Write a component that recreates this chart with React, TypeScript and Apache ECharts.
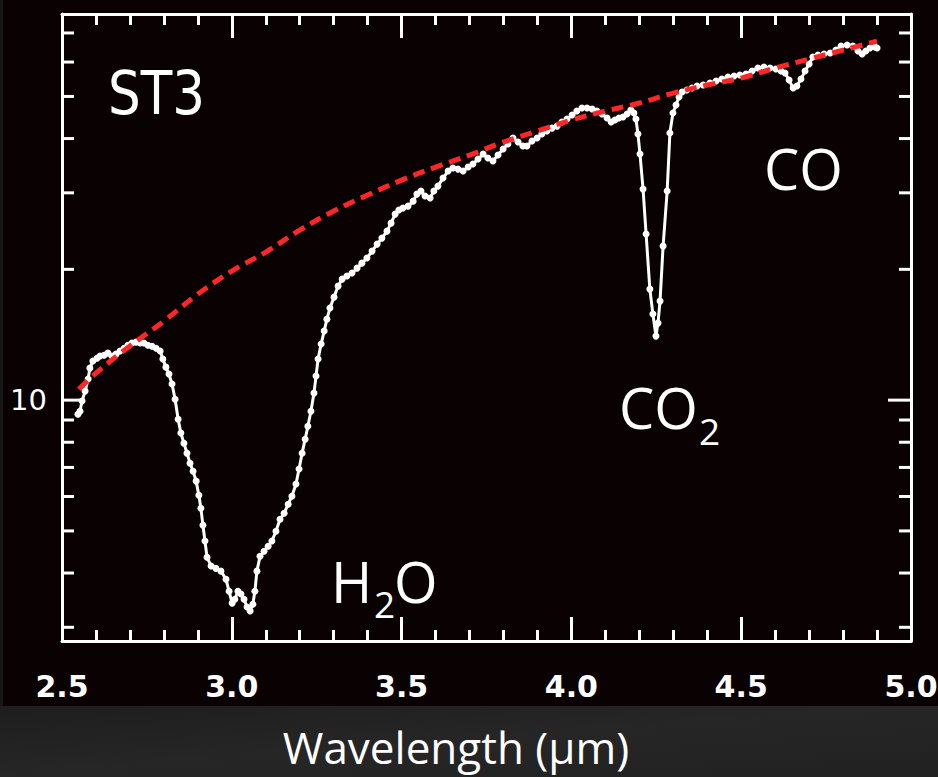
import React, { useEffect, useRef } from "react";
import * as echarts from "echarts";

// Observed spectrum (wavelength in micron, flux)
const wavelength = [
  2.547, 2.553, 2.559, 2.568, 2.577, 2.582, 2.591, 2.603, 2.612, 2.624,
  2.635, 2.647, 2.659, 2.671, 2.683, 2.694, 2.706, 2.718, 2.730, 2.741,
  2.753, 2.765, 2.777, 2.789, 2.797, 2.806, 2.815, 2.824, 2.833, 2.842,
  2.850, 2.859, 2.868, 2.877, 2.886, 2.895, 2.903, 2.909, 2.915, 2.921,
  2.927, 2.939, 2.953, 2.968, 2.983, 2.992, 3.001, 3.009, 3.018, 3.027,
  3.036, 3.045, 3.054, 3.062, 3.068, 3.074, 3.083, 3.095, 3.107, 3.118,
  3.130, 3.142, 3.154, 3.166, 3.177, 3.189, 3.198, 3.207, 3.216, 3.224,
  3.233, 3.242, 3.248, 3.254, 3.263, 3.272, 3.280, 3.289, 3.301, 3.313,
  3.325, 3.339, 3.354, 3.369, 3.383, 3.398, 3.413, 3.428, 3.442, 3.457,
  3.469, 3.481, 3.492, 3.504, 3.519, 3.534, 3.545, 3.557, 3.569, 3.584,
  3.595, 3.607, 3.622, 3.637, 3.651, 3.666, 3.681, 3.696, 3.710, 3.725,
  3.740, 3.754, 3.769, 3.784, 3.799, 3.813, 3.828, 3.843, 3.857, 3.869,
  3.884, 3.899, 3.913, 3.928, 3.943, 3.958, 3.972, 3.987, 4.002, 4.016,
  4.031, 4.046, 4.061, 4.075, 4.090, 4.105, 4.117, 4.128, 4.140, 4.152,
  4.164, 4.175, 4.184, 4.190, 4.196, 4.202, 4.211, 4.220, 4.231, 4.240,
  4.249, 4.255, 4.261, 4.270, 4.282, 4.290, 4.299, 4.308, 4.317, 4.326,
  4.340, 4.355, 4.370, 4.388, 4.408, 4.426, 4.443, 4.461, 4.479, 4.496,
  4.514, 4.532, 4.549, 4.567, 4.585, 4.602, 4.617, 4.629, 4.641, 4.653,
  4.664, 4.676, 4.688, 4.700, 4.711, 4.726, 4.744, 4.762, 4.779, 4.794,
  4.812, 4.829, 4.844, 4.856, 4.867, 4.879, 4.894, 4.900,
];

const flux = [
  9.28, 9.43, 9.95, 10.49, 11.18, 11.85, 12.30, 12.49, 12.63, 12.69,
  12.83, 12.63, 12.76, 12.97, 13.17, 13.38, 13.53, 13.60, 13.53, 13.53,
  13.38, 13.31, 13.17, 12.97, 12.43, 11.91, 11.48, 10.89, 10.05, 9.04,
  8.40, 7.96, 7.55, 7.16, 6.86, 6.51, 6.04, 5.64, 5.15, 4.74,
  4.35, 4.15, 4.10, 4.04, 3.87, 3.63, 3.41, 3.48, 3.63, 3.58,
  3.48, 3.34, 3.27, 3.39, 3.63, 4.04, 4.37, 4.49, 4.61, 4.74,
  4.99, 5.32, 5.49, 5.76, 6.01, 6.41, 6.94, 7.55, 8.13, 8.71,
  9.43, 10.38, 11.36, 12.43, 13.46, 14.42, 15.36, 16.29, 17.26, 18.30,
  18.99, 19.30, 19.61, 20.13, 20.67, 21.23, 22.03, 22.86, 23.60, 24.49,
  25.55, 26.80, 27.38, 27.67, 27.96, 28.71, 29.80, 30.28, 29.49, 29.18,
  30.28, 31.09, 32.44, 33.67, 34.21, 34.02, 33.67, 34.39, 34.94, 35.88,
  36.84, 36.07, 35.50, 36.65, 37.83, 38.85, 40.10, 39.26, 38.44, 38.44,
  39.47, 40.10, 40.96, 41.62, 42.28, 42.73, 43.65, 44.35, 45.30, 46.27,
  47.01, 47.01, 46.77, 46.27, 45.54, 44.59, 43.65, 44.12, 44.59, 44.82,
  45.54, 46.52, 45.78, 44.35, 40.96, 36.84, 30.60, 24.11, 18.01, 15.78,
  14.04, 15.04, 16.90, 22.62, 30.28, 41.18, 45.78, 47.77, 49.84, 51.17,
  51.72, 52.27, 52.83, 53.11, 53.67, 54.25, 54.82, 55.41, 55.70, 56.00,
  56.30, 57.20, 58.12, 58.43, 58.12, 57.81, 57.20, 56.60, 54.53, 52.27,
  52.83, 54.82, 57.20, 59.36, 61.60, 62.26, 62.59, 62.92, 63.93, 65.31,
  65.65, 65.31, 63.59, 62.59, 63.59, 64.61, 64.95, 64.61,
];

// Fitted continuum (red dashed)
const contWavelength = [
  2.55, 2.6, 2.7, 2.8, 2.9, 3.0, 3.1, 3.2, 3.3, 3.4, 3.5, 3.6, 3.7,
  3.8, 3.9, 4.0, 4.1, 4.2, 4.3, 4.4, 4.5, 4.6, 4.7, 4.8, 4.9,
];
const contFlux = [
  10.60, 11.54, 13.32, 15.20, 17.54, 19.82, 21.92, 24.62, 27.24, 29.65,
  32.10, 34.39, 36.64, 39.26, 41.62, 44.13, 46.28, 48.29, 50.91, 53.11,
  55.12, 58.11, 60.95, 63.92, 67.05,
];

// Axis ranges and ticks
const xMin = 2.5;
const xMax = 5.0;
const xInterval = 0.5;
const yMin = 2.79;
const yMax = 77.4;
const yMinorTicks = [3, 4, 5, 6, 7, 8, 9, 20, 30, 40, 50, 60, 70];
const yMajorTicks = [10];

export default function App() {
  const ref = useRef<HTMLDivElement>(null);

  useEffect(() => {
    if (!ref.current) return;
    const chart = echarts.init(ref.current, null, { renderer: "svg" });

    const white = "#ffffff";
    const axisCommonX = {
      type: "value",
      min: xMin,
      max: xMax,
      interval: xInterval,
      splitLine: { show: false },
      axisLine: { show: true, lineStyle: { color: white, width: 3 } },
      axisTick: { show: true, inside: true, length: 24, lineStyle: { color: white, width: 3 } },
      minorTick: { show: true, splitNumber: 5, length: 11, lineStyle: { color: white, width: 3 } },
    };

    const tickData = [
      ...yMinorTicks.map((v) => [xMin, v, 0]),
      ...yMajorTicks.map((v) => [xMin, v, 1]),
    ];

    const label = (text: string, x: number, y: number, size: number, align = "left") => ({
      type: "text",
      z: 10,
      x,
      y,
      silent: true,
      style: {
        text,
        fill: white,
        fontSize: size,
        lineHeight: size,
        fontFamily: "Open Sans",
        align,
        verticalAlign: "middle",
      },
    });

    const option: any = {
      animation: false,
      backgroundColor: "#0a0103",
      grid: {
        left: 62,
        right: 27,
        top: 14,
        bottom: 136,
        containLabel: false,
        outerBoundsMode: "none",
      },
      xAxis: [
        {
          ...axisCommonX,
          position: "bottom",
          axisLabel: {
            show: true,
            color: white,
            fontSize: 30,
            lineHeight: 30,
            fontWeight: "bold",
            fontFamily: "DejaVu Sans",
            margin: 30,
            formatter: (v: number) => v.toFixed(1),
          },
        },
        {
          ...axisCommonX,
          position: "top",
          axisLabel: { show: false },
        },
      ],
      yAxis: [
        {
          type: "log",
          logBase: 10,
          min: yMin,
          max: yMax,
          position: "left",
          splitLine: { show: false },
          axisLine: { show: true, lineStyle: { color: white, width: 3 } },
          axisTick: { show: false },
          minorTick: { show: false },
          axisLabel: {
            show: true,
            color: white,
            fontSize: 29,
            fontFamily: "DejaVu Sans",
            margin: 15,
            showMinLabel: false,
            showMaxLabel: false,
            formatter: (v: number) => (Math.abs(v - 10) < 1e-6 ? "10" : ""),
          },
        },
        {
          type: "log",
          logBase: 10,
          min: yMin,
          max: yMax,
          position: "right",
          splitLine: { show: false },
          axisLine: { show: true, lineStyle: { color: white, width: 3 } },
          axisTick: { show: false },
          minorTick: { show: false },
          axisLabel: { show: false },
        },
      ],
      series: [
        {
          type: "custom",
          xAxisIndex: 0,
          yAxisIndex: 0,
          silent: true,
          z: 1,
          data: tickData,
          renderItem: (params: any, api: any) => {
            const v = api.value(1);
            const major = api.value(2) === 1;
            const len = major ? 23 : 12;
            const pl = api.coord([xMin, v]);
            const pr = api.coord([xMax, v]);
            return {
              type: "group",
              children: [
                {
                  type: "line",
                  shape: { x1: pl[0], y1: pl[1], x2: pl[0] + len, y2: pl[1] },
                  style: { stroke: white, lineWidth: 3 },
                },
                {
                  type: "line",
                  shape: { x1: pr[0] - len, y1: pr[1], x2: pr[0], y2: pr[1] },
                  style: { stroke: white, lineWidth: 3 },
                },
              ],
            };
          },
        },
        {
          type: "line",
          xAxisIndex: 0,
          yAxisIndex: 0,
          data: wavelength.map((w, i) => [w, flux[i]]),
          symbol: "circle",
          symbolSize: 7,
          showSymbol: true,
          showAllSymbol: true,
          itemStyle: { color: white, borderColor: white, borderWidth: 0 },
          lineStyle: { color: white, width: 3 },
          z: 2,
          silent: true,
        },
        {
          type: "line",
          xAxisIndex: 0,
          yAxisIndex: 0,
          data: contWavelength.map((w, i) => [w, contFlux[i]]),
          smooth: 0.4,
          symbol: "none",
          lineStyle: { color: "#ff2626", width: 5, type: [12, 7] },
          z: 3,
          silent: true,
        },
      ],
      graphic: [
        {
          type: "rect",
          z: 0,
          silent: true,
          shape: { x: 0, y: 706, width: 938, height: 71 },
          style: {
            fill: new echarts.graphic.LinearGradient(0, 0, 1, 1, [
              { offset: 0, color: "#1e1e1e" },
              { offset: 0.5, color: "#262626" },
              { offset: 1, color: "#212121" },
            ]),
          },
        },
        {
          type: "rect",
          z: 0,
          silent: true,
          shape: { x: 0, y: 0, width: 3, height: 706 },
          style: { fill: "#171717" },
        },
        {
          type: "text",
          z: 10,
          x: 108,
          y: 93,
          scaleX: 0.86,
          silent: true,
          style: {
            text: "ST3",
            fill: white,
            fontSize: 60,
            lineHeight: 60,
            fontFamily: "DejaVu Sans",
            align: "left",
            verticalAlign: "middle",
          },
        },
        label("CO", 764, 168, 56),
        label("CO", 619, 407, 56),
        label("2", 699, 430, 37),
        label("H", 331, 581, 56),
        label("2", 374, 603, 37),
        label("O", 394, 581, 56),
        label("Wavelength (μm)", 456, 747, 44, "center"),
      ],
    };

    chart.setOption(option);
    return () => chart.dispose();
  }, []);

  return (
    <div
      ref={ref}
      style={{ position: "fixed", left: 0, top: 0, width: 938, height: 777 }}
    />
  );
}
